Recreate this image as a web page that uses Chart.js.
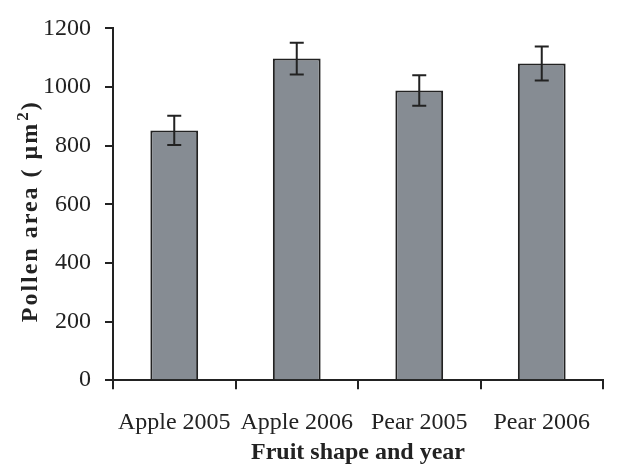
<!DOCTYPE html>
<html lang="en">
<head>
  <meta charset="UTF-8" />
  <title>Pollen area by fruit shape and year</title>
  <script src="https://cdn.jsdelivr.net/npm/chart.js"></script>
  <style>
    body { margin: 0; background: #fff; }
    #wrap { width: 640px; height: 468px; }
  </style>
</head>
<body>
  <div id="wrap"><canvas id="pollenChart" width="640" height="468"></canvas></div>

  <script>
    // values
    const categories = ['Apple 2005', 'Apple 2006', 'Pear 2005', 'Pear 2006'];
    const pollenArea = [852, 1097, 988, 1080];
    const errorSize = [50, 54, 52, 58];
    const yTicks = [0, 200, 400, 600, 800, 1000, 1200];
    const xTitle = 'Fruit shape and year';
    const yTitle = ['Pollen area ( \u03bcm', '2', ')'];

    // error bars drawn through the y scale
    const errorBars = {
      id: 'errorBars',
      afterDatasetsDraw(chart) {
        const ctx = chart.ctx;
        const y = chart.scales.y;
        const meta = chart.getDatasetMeta(0);
        ctx.save();
        ctx.strokeStyle = '#222';
        ctx.lineWidth = 2;
        meta.data.forEach((bar, i) => {
          const top = y.getPixelForValue(pollenArea[i] + errorSize[i]);
          const bot = y.getPixelForValue(pollenArea[i] - errorSize[i]);
          const x = bar.x;
          ctx.beginPath();
          ctx.moveTo(x, top); ctx.lineTo(x, bot);
          ctx.moveTo(x - 7, top); ctx.lineTo(x + 7, top);
          ctx.moveTo(x - 7, bot); ctx.lineTo(x + 7, bot);
          ctx.stroke();
        });
        ctx.restore();
      }
    };

    // axis titles (y title needs a real superscript)
    const axisTitles = {
      id: 'axisTitles',
      afterDraw(chart) {
        const ctx = chart.ctx;
        const area = chart.chartArea;
        const bold = 'bold 24px "Liberation Serif"';
        const sup = 'bold 17px "Liberation Serif"';
        ctx.save();
        ctx.fillStyle = '#222';
        ctx.font = bold;
        ctx.textAlign = 'center';
        ctx.textBaseline = 'alphabetic';
        ctx.fillText(xTitle, (area.left + area.right) / 2, 459);

        ctx.textAlign = 'left';
        ctx.letterSpacing = '2px';
        ctx.font = bold;
        const w0 = ctx.measureText(yTitle[0]).width;
        const w2 = ctx.measureText(yTitle[2]).width;
        ctx.font = sup;
        const w1 = ctx.measureText(yTitle[1]).width;
        const total = w0 + w1 + w2 + 1;
        ctx.translate(37, (area.top + area.bottom) / 2 + 7);
        ctx.rotate(-Math.PI / 2);
        let x = -total / 2;
        ctx.font = bold;
        ctx.fillText(yTitle[0], x, 0);
        x += w0 + 1;
        ctx.font = sup;
        ctx.fillText(yTitle[1], x, -9);
        x += w1;
        ctx.font = bold;
        ctx.fillText(yTitle[2], x, 0);
        ctx.restore();
      }
    };

    const ctx = document.getElementById('pollenChart').getContext('2d');
    new Chart(ctx, {
      type: 'bar',
      data: {
        labels: categories,
        datasets: [{
          data: pollenArea,
          backgroundColor: '#868c93',
          borderColor: '#222',
          borderWidth: 2,
          categoryPercentage: 1,
          barPercentage: 0.39
        }]
      },
      options: {
        responsive: false,
        animation: false,
        layout: { padding: { top: 21, right: 37, left: 29, bottom: 12 } },
        plugins: { legend: { display: false }, tooltip: { enabled: false } },
        scales: {
          x: {
            grid: { offset: true, drawOnChartArea: false, tickLength: 9, color: '#222', lineWidth: 2 },
            border: { color: '#222', width: 2 },
            ticks: { color: '#222', font: { family: 'Liberation Serif', size: 24 }, padding: 19, maxRotation: 0 }
          },
          y: {
            min: 0, max: 1200,
            afterBuildTicks: (scale) => { scale.ticks = yTicks.map(v => ({ value: v })); },
            grid: { drawOnChartArea: false, tickLength: 8, color: '#222', lineWidth: 2 },
            border: { color: '#222', width: 2 },
            ticks: { color: '#222', font: { family: 'Liberation Serif', size: 24 }, padding: 14, callback: (v) => String(v) }
          }
        }
      },
      plugins: [errorBars, axisTitles]
    });
  </script>
</body>
</html>
